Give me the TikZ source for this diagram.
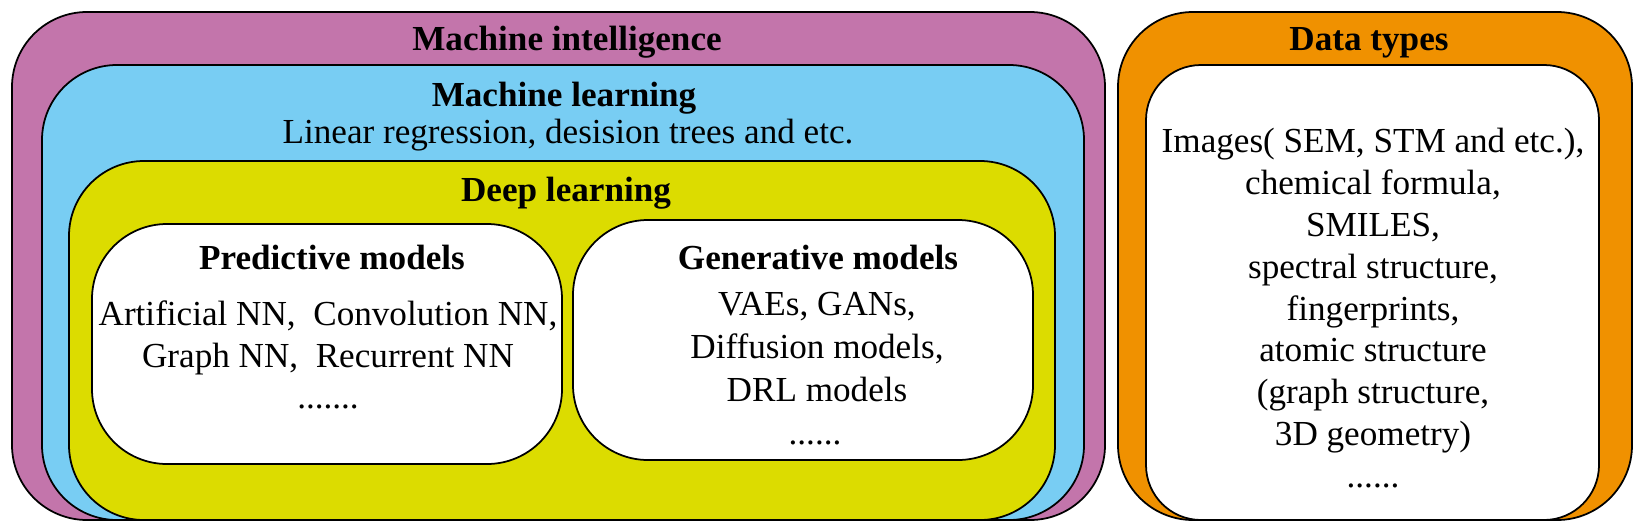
\documentclass[tikz,border=0pt]{standalone}
\usepackage{fontspec}
\setmainfont{Liberation Serif}
\usetikzlibrary{fit}

\definecolor{mipurple}{HTML}{C375AB}
\definecolor{mlblue}{HTML}{78CDF3}
\definecolor{dlyellow}{HTML}{DCDC00}
\definecolor{dtorange}{HTML}{F09100}

\begin{document}
\begin{tikzpicture}[
    x=0.02cm, y=-0.02cm,
    box/.style={draw, line width=1pt, rounded corners=1.5cm, inner sep=0pt},
    title/.style={font=\fontsize{20}{24}\selectfont\bfseries, anchor=base, inner sep=0pt},
    body/.style={font=\fontsize{20}{24}\selectfont, anchor=base, inner sep=0pt}
]
    \useasboundingbox (0,0) rectangle (1646,528);

    % Machine intelligence and the boxes inside it
    \node[box, fill=mipurple, fit={(12,12) (1105,520)}] (MI) {};
    \node[box, fill=mlblue, fit={(42,65) (1084,520)}] (ML) {};
    \node[box, fill=dlyellow, fit={(69,161) (1055,520)}] (DL) {};
    \node[box, fill=white, fit={(92,224) (562,464)}] (PM) {};
    \node[box, fill=white, fit={(573,220) (1033,460)}] (GM) {};

    % Data types
    \node[box, fill=dtorange, fit={(1118,12) (1632,520)}] (DT) {};
    \node[box, fill=white, rounded corners=1.1cm, fit={(1146,65) (1599,520)}] (DTin) {};

    % Titles
    \node[title] (MItitle) at (567,50) {Machine intelligence};
    \node[title] (MLtitle) at (564,106) {Machine learning};
    \node[body] (MLtext) at (568,143) {Linear regression, desision trees and etc.};
    \node[title] (DLtitle) at (566,201) {Deep learning};
    \node[title] (PMtitle) at (332,269) {Predictive models};
    \node[title] (GMtitle) at (818,269) {Generative models};
    \node[title] (DTtitle) at (1369,50) {Data types};

    % Predictive models
    \node[body] (PM1) at (328,325) {Artificial NN,\ \ Convolution NN,};
    \node[body] (PM2) at (328,367) {Graph NN,\ \ Recurrent NN};
    \node[body] (PM3) at (328,408) {.......};

    % Generative models
    \foreach \txt [count=\i] in {{VAEs, GANs,}, {Diffusion models,}, {DRL models}}
        \node[body] (GM\i) at (817,272+43*\i) {\txt};
    \node[body] (GM4) at (815,444) {......};

    % Data types list
    \foreach \txt [count=\i] in {{Images( SEM, STM and etc.),}, {chemical formula,}, {SMILES,},
        {spectral structure,}, {fingerprints,}, {atomic structure}, {(graph structure,},
        {3D geometry)}}
        \node[body] (dtline\i) at (1373,111+41.8*\i) {\txt};
    \node[body] (dtline9) at (1373,487) {......};
\end{tikzpicture}
\end{document}
